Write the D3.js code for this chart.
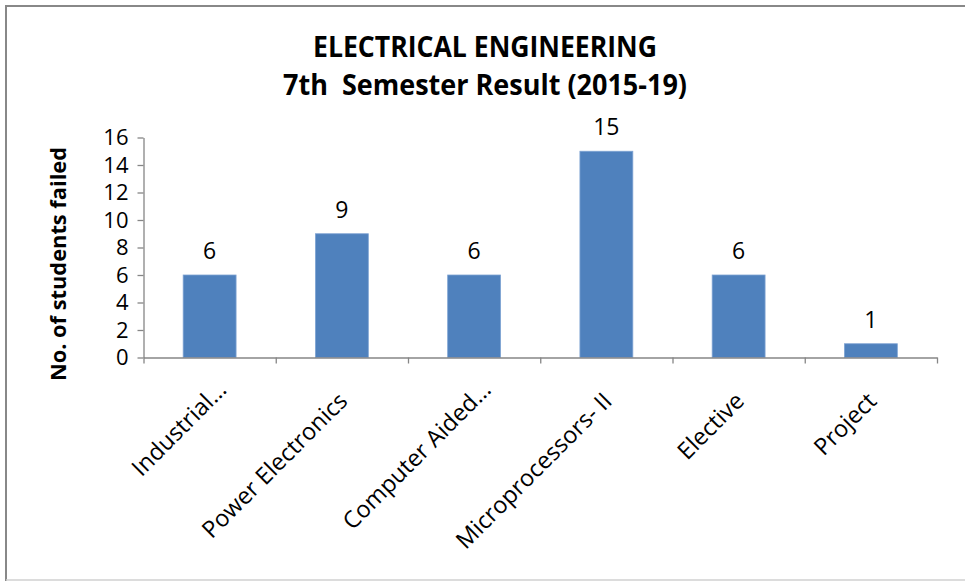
<!DOCTYPE html>
<html>
<head>
<meta charset="utf-8">
<script src="https://cdn.jsdelivr.net/npm/d3@7"></script>
<style>
  body { margin: 0; background: #fff; }
  svg text { font-family: "Open Sans", "Noto Sans", sans-serif; fill: #000; white-space: pre; }
</style>
</head>
<body>
<div id="chart"></div>
<script>
const subjects = ["Industrial…", "Power Electronics", "Computer Aided…", "Microprocessors- II", "Elective", "Project"]
const failed = [6, 9, 6, 15, 6, 1]
const y_ticks = [0, 2, 4, 6, 8, 10, 12, 14, 16]
const title_lines = ["ELECTRICAL ENGINEERING", "7th  Semester Result (2015-19)"]
const y_label = "No. of students failed"

const W = 965, H = 581
const margin = {top: 137.5, right: 28, bottom: 223.5, left: 143.5}
const width = W - margin.left - margin.right,
    height = H - margin.top - margin.bottom

let svg = d3.select("#chart")
    .append("svg")
    .attr("width", W)
    .attr("height", H)

// chart frame
svg.append("path")
    .attr("d", "M6,581 L6,6 L965,6")
    .attr("fill", "none")
    .attr("stroke", "#888")
    .attr("stroke-width", 2)
svg.append("line")
    .attr("x1", 6).attr("x2", W)
    .attr("y1", 580).attr("y2", 580)
    .attr("stroke", "#d0d0d0")
    .attr("stroke-width", 1.5)

// title
const title_widths = [344, 404]
svg.append("g")
    .selectAll("text")
    .data(title_lines)
    .enter()
    .append("text")
    .attr("x", 485)
    .attr("y", (d, i) => 57 + i * 38)
    .attr("text-anchor", "middle")
    .attr("textLength", (d, i) => title_widths[i])
    .attr("lengthAdjust", "spacingAndGlyphs")
    .style("font-weight", "bold")
    .style("font-size", "28px")
    .text(d => d)

let g = svg.append("g")
    .attr("transform", "translate(" + margin.left + "," + margin.top + ")")

const x = d3.scaleBand()
    .domain(subjects)
    .range([0, width])
    .paddingInner(0.6)
    .paddingOuter(0.3)
const x_edges = d3.scaleLinear()
    .domain([0, subjects.length])
    .range([0, width])
const y = d3.scaleLinear()
    .domain([0, 16])
    .range([height, 0])

// bars
g.selectAll(".bar")
    .data(failed)
    .enter()
    .append("rect")
    .attr("class", "bar")
    .attr("x", (d, i) => x(subjects[i]))
    .attr("y", d => y(d))
    .attr("width", x.bandwidth())
    .attr("height", d => height - y(d))
    .attr("fill", "#4f81bd")
    .attr("stroke", "#7ea3d3")
    .attr("stroke-width", 0.8)

// value labels
g.selectAll(".val")
    .data(failed)
    .enter()
    .append("text")
    .attr("class", "val")
    .attr("x", (d, i) => x(subjects[i]) + x.bandwidth() / 2)
    .attr("y", d => y(d) - 16)
    .attr("text-anchor", "middle")
    .style("font-size", "23px")
    .text(d => d)

// y axis
let y_axis = g.append("g")
    .call(d3.axisLeft(y)
        .tickValues(y_ticks)
        .tickSizeInner(6)
        .tickSizeOuter(0)
        .tickPadding(9)
    )
y_axis.select(".domain").attr("stroke", "#868686").attr("stroke-width", 1.3)
y_axis.selectAll(".tick line").attr("stroke", "#868686").attr("stroke-width", 1.3)
y_axis.selectAll(".tick text")
    .style("font-size", "22px")
    .style("font-family", "'Open Sans', sans-serif")
    .attr("fill", "#000")

// x axis with ticks at category edges
let x_axis = g.append("g")
    .attr("transform", "translate(0," + height + ")")
    .call(d3.axisBottom(x_edges)
        .ticks(subjects.length)
        .tickSizeInner(6)
        .tickSizeOuter(0)
        .tickFormat("")
    )
x_axis.select(".domain").attr("stroke", "#868686").attr("stroke-width", 1.3)
x_axis.selectAll(".tick line").attr("stroke", "#868686").attr("stroke-width", 1.3)

// category labels, rotated; truncated ones sit a little further along
g.selectAll(".cat")
    .data(subjects)
    .enter()
    .append("text")
    .attr("class", "cat")
    .attr("transform", d => "translate(" + (x(d) + x.bandwidth() / 2 + 7) + "," + (height + 45) + ") rotate(-45)")
    .attr("text-anchor", "end")
    .attr("dx", d => d.endsWith("…") ? 16 : 0)
    .style("font-size", "23.5px")
    .text(d => d)

// y axis title
svg.append("text")
    .attr("transform", "translate(66,264) rotate(-90)")
    .attr("text-anchor", "middle")
    .attr("textLength", 234)
    .attr("lengthAdjust", "spacingAndGlyphs")
    .style("font-weight", "bold")
    .style("font-size", "21px")
    .text(y_label)
</script>
</body>
</html>
